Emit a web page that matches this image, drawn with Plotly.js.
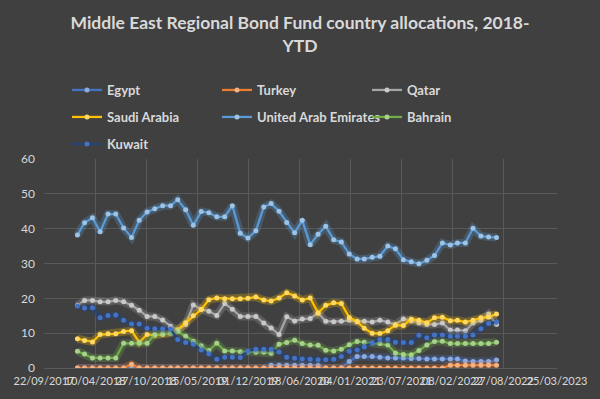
<!DOCTYPE html>
<html>
<head>
<meta charset="utf-8">
<script src="https://cdn.plot.ly/plotly-3.0.1.min.js"></script>
<style>
  html, body { margin: 0; padding: 0; background: #404040; }
  #chart { width: 600px; height: 399px; }
</style>
</head>
<body>
<div id="chart"></div>
<script>
// Month-end observation dates
const dates = [
  '2018-01-31','2018-02-28','2018-03-31','2018-04-30','2018-05-31','2018-06-30','2018-07-31','2018-08-31','2018-09-30','2018-10-31','2018-11-30','2018-12-31',
  '2019-01-31','2019-02-28','2019-03-31','2019-04-30','2019-05-31','2019-06-30','2019-07-31','2019-08-31','2019-09-30','2019-10-31','2019-11-30','2019-12-31',
  '2020-01-31','2020-02-29','2020-03-31','2020-04-30','2020-05-31','2020-06-30','2020-07-31','2020-08-31','2020-09-30','2020-10-31','2020-11-30','2020-12-31',
  '2021-01-31','2021-02-28','2021-03-31','2021-04-30','2021-05-31','2021-06-30','2021-07-31','2021-08-31','2021-09-30','2021-10-31','2021-11-30','2021-12-31',
  '2022-01-31','2022-02-28','2022-03-31','2022-04-30','2022-05-31','2022-06-30','2022-07-31'
];

const egypt = [
  0,0,0,0,0,0,0,0,0,0,
  0,0,0,0,0,0,0,0,0,0,
  0,0,0,0,0,0.8,0.8,0.8,0.8,0.8,
  0.8,0.8,0,0,0,1.9,3.3,3.3,3.3,3.1,
  2.9,2.9,2.9,2.7,2.7,2.6,2.6,2.6,2.6,2.6,
  2.0,1.9,1.9,1.9,2.3
];
const turkey = [
  0,0,0,0,0,0,0,1.1,0,0,
  0,0,0,0,0,0,0,0,0,0,
  0,0,0,0,0,0,0,0,0,0,
  0,0,0,0,0,0,0,0,0,0,
  0,0,0,0,0,0,0,0,0.8,0.8,
  0.8,0.8,0.8,0.8,0.8
];
const qatar = [
  18.0,19.4,19.4,19.0,19.0,19.4,19.0,18.0,16.6,14.8,
  14.8,13.8,12.0,10.8,12.5,18.1,16.9,16.3,15.1,18.5,
  16.9,14.8,14.8,14.8,12.9,11.5,9.6,14.7,13.5,14.1,
  14.2,15.8,13.4,13.3,13.4,13.7,13.4,13.4,13.2,13.7,
  13.2,12.5,14.1,13.5,12.9,12.5,12.5,12.9,10.9,10.9,
  10.7,12.9,13.7,15.5,12.5
];
const saudiArabia = [
  8.4,7.9,7.5,9.6,9.8,9.8,10.5,10.7,7.4,9.6,
  9.4,9.6,10.0,11.0,13.0,15.0,16.8,19.6,20.1,19.9,
  19.9,19.9,20.0,20.4,19.5,19.2,20.1,21.6,20.7,19.5,
  20.1,15.8,18.0,18.7,18.5,14.5,13.3,11.4,10.0,9.9,
  10.7,12.3,12.2,14.0,13.7,13.0,14.4,14.6,13.6,13.7,
  13.2,13.7,14.4,14.6,15.5
];
const uae = [
  38.2,41.7,43.1,39.1,44.2,44.2,40.2,37.5,42.4,44.8,
  45.7,46.6,46.6,48.3,45.4,41.0,44.9,44.6,43.4,43.4,
  46.6,38.7,37.3,39.4,46.2,47.2,45.0,41.8,38.8,42.4,
  35.4,38.4,40.7,36.8,36.2,32.7,31.3,31.3,31.8,32.1,
  35.0,34.2,31.1,30.5,29.9,30.9,32.3,35.9,35.3,35.9,
  35.9,40.1,37.9,37.6,37.5
];
const bahrain = [
  4.8,4.0,2.9,2.9,2.9,2.9,7.1,7.1,7.1,7.1,
  9.6,9.8,10.0,10.5,9.1,7.7,6.4,5.0,7.1,4.9,
  4.9,4.7,4.6,4.5,4.5,4.2,6.8,7.3,8.0,7.0,
  6.6,6.5,5.1,4.9,5.4,6.7,7.6,7.4,7.2,7.0,
  6.6,4.3,3.9,3.8,5.0,6.6,7.6,7.7,7.0,7.0,
  7.0,7.0,7.0,7.0,7.4
];
const kuwait = [
  17.8,17.2,17.3,14.4,15.1,15.2,13.7,12.6,12.6,11.4,
  11.3,11.3,11.1,8.2,7.3,6.8,5.2,4.1,2.5,3.1,
  3.1,3.0,4.8,5.4,5.4,5.4,4.6,3.1,2.8,2.6,
  2.5,2.4,2.4,2.5,3.3,4.8,5.2,6.0,7.2,8.2,
  8.2,7.4,7.3,7.3,9.4,8.7,9.5,9.5,9.1,9.1,
  9.1,9.5,11.3,12.8,13.2
];

const xTickVals = ['2017-09-22','2018-04-10','2018-10-27','2019-05-15','2019-12-01','2020-06-18','2021-01-04','2021-07-23','2022-02-08','2022-08-27','2023-03-25'];
const xTickText = ['22/09/2017','10/04/2018','27/10/2018','15/05/2019','01/12/2019','18/06/2020','04/01/2021','23/07/2021','08/02/2022','27/08/2022','25/03/2023'];
const yTickVals = [0,10,20,30,40,50,60];

const seriesNames = ['Egypt','Turkey','Qatar','Saudi Arabia','United Arab Emirates','Bahrain','Kuwait'];
const seriesData = [egypt, turkey, qatar, saudiArabia, uae, bahrain, kuwait];
const lineColors = ['#4472C4','#ED7D31','#A5A5A5','#FFC000','#5B9BD5','#70AD47','#264478'];
const markerColors = ['#8FAADC','#F4B183','#C9C9C9','#FFD966','#9DC3E6','#A9D18E','#4472C4'];
const legendIds = ['legend','legend','legend','legend2','legend2','legend2','legend3'];

const traces = [];
seriesNames.forEach((name, i) => {
  traces.push({
    x: dates, y: seriesData[i], type: 'scatter', mode: 'lines',
    line: { color: lineColors[i], width: 8 }, opacity: 0.28,
    hoverinfo: 'skip', showlegend: false
  });
  traces.push({
    x: dates, y: seriesData[i], type: 'scatter', mode: 'lines+markers', name: name,
    legend: legendIds[i],
    line: { color: lineColors[i], width: 2.25 },
    marker: { color: markerColors[i], size: 5, line: { width: 0 } }
  });
});

const FONT = 'Lato, "Open Sans", sans-serif';
const legendCommon = {
  orientation: 'h', xref: 'container', yref: 'container',
  x: 67/600, xanchor: 'left', yanchor: 'middle',
  entrywidth: 105, bgcolor: 'rgba(0,0,0,0)',
  font: { family: FONT, size: 13, color: '#D9D9D9', weight: 'bold' },
  itemclick: false, itemdoubleclick: false
};

const layout = {
  width: 600, height: 399,
  paper_bgcolor: '#404040', plot_bgcolor: '#404040',
  margin: { l: 44, r: 43, t: 150, b: 31 },
  title: {
    text: 'Middle East Regional Bond Fund country allocations, 2018-<br>YTD',
    font: { family: FONT, size: 17.5, color: '#D9D9D9', weight: 'bold' },
    x: 0.5, xanchor: 'center', xref: 'container',
    y: 1 - 29/399, yanchor: 'top', yref: 'container'
  },
  showlegend: true,
  legend: Object.assign({}, legendCommon, { y: 1 - 90/399 }),
  legend2: Object.assign({}, legendCommon, { y: 1 - 117/399 }),
  legend3: Object.assign({}, legendCommon, { y: 1 - 144/399 }),
  xaxis: {
    type: 'date', range: ['2017-09-22', '2023-03-25'],
    tickmode: 'array', tickvals: xTickVals, ticktext: xTickText, tickangle: 0,
    showgrid: true, gridcolor: '#595959', gridwidth: 1,
    zeroline: false, showline: false, ticks: '',
    tickfont: { family: FONT, size: 11, color: '#D9D9D9' },
    ticklabelstandoff: 5
  },
  yaxis: {
    range: [0, 60], tickmode: 'array', tickvals: yTickVals,
    showgrid: true, gridcolor: '#595959', gridwidth: 1,
    zeroline: true, zerolinecolor: '#595959', zerolinewidth: 1,
    showline: false, ticks: '',
    tickfont: { family: FONT, size: 12, color: '#D9D9D9' },
    ticklabelstandoff: 8
  }
};

Plotly.newPlot('chart', traces, layout, { displayModeBar: false, staticPlot: true });
</script>
</body>
</html>
